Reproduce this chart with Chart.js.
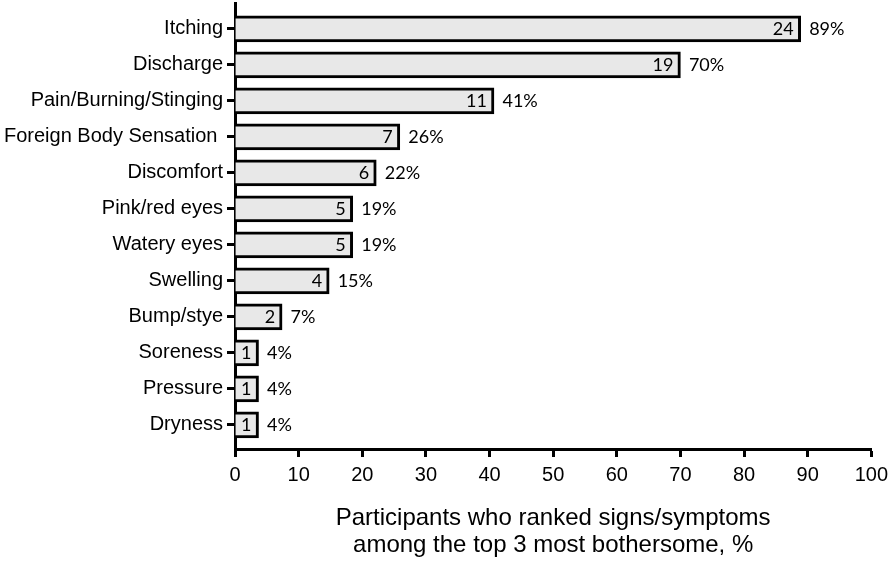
<!DOCTYPE html>
<html>
<head>
<meta charset="utf-8">
<script src="https://cdn.jsdelivr.net/npm/chart.js@4.4.0/dist/chart.umd.min.js"></script>
<style>
  html, body { margin: 0; padding: 0; background: #ffffff; }
  #wrap { width: 894px; height: 563px; }
</style>
</head>
<body>
<div id="wrap"><canvas id="c" width="894" height="563"></canvas></div>
<script>
const categories = ["Itching", "Discharge", "Pain/Burning/Stinging", "Foreign Body Sensation ", "Discomfort",
  "Pink/red eyes", "Watery eyes", "Swelling", "Bump/stye", "Soreness", "Pressure", "Dryness"];
const percentValues = [88.9, 70.0, 40.7, 25.9, 22.2, 18.5, 18.5, 14.8, 7.4, 3.7, 3.7, 3.7];
const countLabels = ["24", "19", "11", "7", "6", "5", "5", "4", "2", "1", "1", "1"];
const percentLabels = ["89%", "70%", "41%", "26%", "22%", "19%", "19%", "15%", "7%", "4%", "4%", "4%"];
const xTicks = [0, 10, 20, 30, 40, 50, 60, 70, 80, 90, 100];
const xTitle = ["Participants who ranked signs/symptoms", "among the top 3 most bothersome, %"];

const barLabels = {
  id: 'barLabels',
  afterDatasetsDraw(chart) {
    const ctx = chart.ctx;
    const meta = chart.getDatasetMeta(0);
    ctx.save();
    ctx.font = '18px Lato';
    ctx.fillStyle = '#000';
    ctx.textBaseline = 'alphabetic';
    meta.data.forEach((bar, i) => {
      const p = bar.getProps(['x', 'y'], true);
      ctx.textAlign = 'right';
      ctx.fillText(countLabels[i], p.x - 7, p.y + 6.5);
      ctx.textAlign = 'left';
      ctx.fillText(percentLabels[i], p.x + 8.5, p.y + 6.5);
    });
    ctx.restore();
  }
};

new Chart(document.getElementById('c'), {
  type: 'bar',
  data: {
    datasets: [{
      data: percentValues.map((v, i) => ({ x: v, y: i })),
      backgroundColor: '#e8e8e8',
      borderColor: '#000000',
      borderWidth: 3,
      borderSkipped: 'start',
      barThickness: 26
    }]
  },
  options: {
    indexAxis: 'y',
    responsive: false,
    animation: false,
    devicePixelRatio: 1,
    layout: { padding: { top: 3, right: 19, left: 0, bottom: 0 } },
    plugins: { legend: { display: false }, tooltip: { enabled: false } },
    scales: {
      y: {
        type: 'linear',
        reverse: true,
        offset: false,
        min: -0.72,
        max: 11.67,
        afterBuildTicks(scale) { scale.ticks = categories.map((c, i) => ({ value: i })); },
        afterFit(scale) { scale.width = 235; scale.paddingTop = 0; scale.paddingBottom = 0; },
        ticks: {
          callback: (v) => categories[v],
          font: { family: 'Liberation Sans', size: 20 },
          color: '#000',
          padding: 4,
          autoSkip: false
        },
        grid: { display: true, offset: false, drawOnChartArea: false, drawTicks: true, tickLength: 8, tickWidth: 3, tickColor: '#000' },
        border: { display: true, width: 3, color: '#000' }
      },
      x: {
        type: 'linear',
        min: 0,
        max: 100,
        afterBuildTicks(scale) { scale.ticks = xTicks.map(v => ({ value: v })); },
        afterFit(scale) { scale.height = 114; },
        ticks: {
          font: { family: 'Liberation Sans', size: 20 },
          color: '#000',
          padding: 6,
          maxRotation: 0
        },
        grid: { display: true, drawOnChartArea: false, drawTicks: true, tickLength: 8, tickWidth: 3, tickColor: '#000' },
        border: { display: true, width: 3, color: '#000' },
        title: {
          display: true,
          text: xTitle,
          font: { family: 'Liberation Sans', size: 24, lineHeight: 1.125 },
          color: '#000',
          padding: { top: 0, bottom: 4 }
        }
      }
    }
  },
  plugins: [barLabels]
});
</script>
</body>
</html>
